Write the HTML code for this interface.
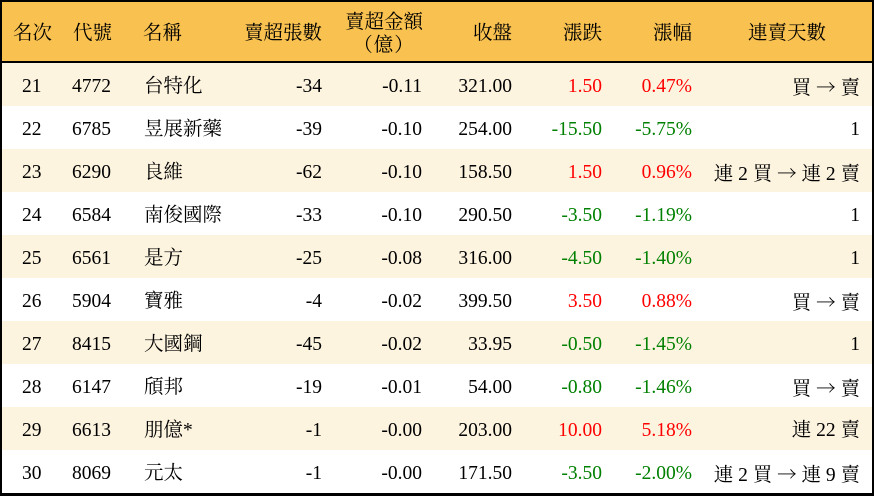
<!DOCTYPE html>
<html>
<head>
<meta charset="utf-8">
<style>
*{margin:0;padding:0;box-sizing:border-box;}
html,body{width:874px;height:496px;overflow:hidden;background:#fff;}
body{font-family:"Liberation Serif","Noto Serif CJK SC",serif;font-size:19.5px;color:#000;}
#wrap{position:absolute;left:0;top:0;width:874px;height:496px;border:2px solid #000;border-bottom-width:3px;}
.hdr{position:absolute;left:0;top:0;width:870px;height:61px;background:#F8C150;border-bottom:2px solid #000;}
.row{position:absolute;left:0;width:870px;height:43px;}
.odd{background:#FDF4E0;}
.c{position:absolute;white-space:nowrap;line-height:43px;top:2px;}
.h{position:absolute;white-space:nowrap;line-height:20px;}
.r{color:#FF0000;}
.g{color:#008000;}
.a{font-family:"Noto Serif CJK SC",serif;}
.fw{font-family:"Noto Serif CJK SC",serif;letter-spacing:1px;}
</style>
</head>
<body>
<div id="wrap">
<div class="hdr">
  <div class="h" style="left:11px;top:22px;">名次</div>
  <div class="h" style="left:71px;top:22px;">代號</div>
  <div class="h" style="left:141px;top:22px;">名稱</div>
  <div class="h" style="right:550px;top:22px;">賣超張數</div>
  <div class="h" style="left:342px;top:11px;width:80px;text-align:center;">賣超金額<br><span class="fw">（億）</span></div>
  <div class="h" style="right:360px;top:22px;">收盤</div>
  <div class="h" style="right:270px;top:22px;">漲跌</div>
  <div class="h" style="right:180px;top:22px;">漲幅</div>
  <div class="h" style="left:746px;top:22px;">連賣天數</div>
</div>

<div class="row odd" style="top:61px;">
  <div class="c" style="left:20px;">21</div><div class="c" style="left:70px;">4772</div><div class="c" style="left:142px;">台特化</div>
  <div class="c" style="right:550px;">-34</div><div class="c" style="right:450px;">-0.11</div><div class="c" style="right:360px;">321.00</div>
  <div class="c r" style="right:270px;">1.50</div><div class="c r" style="right:180px;">0.47%</div><div class="c" style="right:12px;">買 <span class="a">→</span> 賣</div>
</div>
<div class="row" style="top:104px;">
  <div class="c" style="left:20px;">22</div><div class="c" style="left:70px;">6785</div><div class="c" style="left:142px;">昱展新藥</div>
  <div class="c" style="right:550px;">-39</div><div class="c" style="right:450px;">-0.10</div><div class="c" style="right:360px;">254.00</div>
  <div class="c g" style="right:270px;">-15.50</div><div class="c g" style="right:180px;">-5.75%</div><div class="c" style="right:12px;">1</div>
</div>
<div class="row odd" style="top:147px;">
  <div class="c" style="left:20px;">23</div><div class="c" style="left:70px;">6290</div><div class="c" style="left:142px;">良維</div>
  <div class="c" style="right:550px;">-62</div><div class="c" style="right:450px;">-0.10</div><div class="c" style="right:360px;">158.50</div>
  <div class="c r" style="right:270px;">1.50</div><div class="c r" style="right:180px;">0.96%</div><div class="c" style="right:12px;">連 2 買 <span class="a">→</span> 連 2 賣</div>
</div>
<div class="row" style="top:190px;">
  <div class="c" style="left:20px;">24</div><div class="c" style="left:70px;">6584</div><div class="c" style="left:142px;">南俊國際</div>
  <div class="c" style="right:550px;">-33</div><div class="c" style="right:450px;">-0.10</div><div class="c" style="right:360px;">290.50</div>
  <div class="c g" style="right:270px;">-3.50</div><div class="c g" style="right:180px;">-1.19%</div><div class="c" style="right:12px;">1</div>
</div>
<div class="row odd" style="top:233px;">
  <div class="c" style="left:20px;">25</div><div class="c" style="left:70px;">6561</div><div class="c" style="left:142px;">是方</div>
  <div class="c" style="right:550px;">-25</div><div class="c" style="right:450px;">-0.08</div><div class="c" style="right:360px;">316.00</div>
  <div class="c g" style="right:270px;">-4.50</div><div class="c g" style="right:180px;">-1.40%</div><div class="c" style="right:12px;">1</div>
</div>
<div class="row" style="top:276px;">
  <div class="c" style="left:20px;">26</div><div class="c" style="left:70px;">5904</div><div class="c" style="left:142px;">寶雅</div>
  <div class="c" style="right:550px;">-4</div><div class="c" style="right:450px;">-0.02</div><div class="c" style="right:360px;">399.50</div>
  <div class="c r" style="right:270px;">3.50</div><div class="c r" style="right:180px;">0.88%</div><div class="c" style="right:12px;">買 <span class="a">→</span> 賣</div>
</div>
<div class="row odd" style="top:319px;">
  <div class="c" style="left:20px;">27</div><div class="c" style="left:70px;">8415</div><div class="c" style="left:142px;">大國鋼</div>
  <div class="c" style="right:550px;">-45</div><div class="c" style="right:450px;">-0.02</div><div class="c" style="right:360px;">33.95</div>
  <div class="c g" style="right:270px;">-0.50</div><div class="c g" style="right:180px;">-1.45%</div><div class="c" style="right:12px;">1</div>
</div>
<div class="row" style="top:362px;">
  <div class="c" style="left:20px;">28</div><div class="c" style="left:70px;">6147</div><div class="c" style="left:142px;">頎邦</div>
  <div class="c" style="right:550px;">-19</div><div class="c" style="right:450px;">-0.01</div><div class="c" style="right:360px;">54.00</div>
  <div class="c g" style="right:270px;">-0.80</div><div class="c g" style="right:180px;">-1.46%</div><div class="c" style="right:12px;">買 <span class="a">→</span> 賣</div>
</div>
<div class="row odd" style="top:405px;">
  <div class="c" style="left:20px;">29</div><div class="c" style="left:70px;">6613</div><div class="c" style="left:142px;">朋億*</div>
  <div class="c" style="right:550px;">-1</div><div class="c" style="right:450px;">-0.00</div><div class="c" style="right:360px;">203.00</div>
  <div class="c r" style="right:270px;">10.00</div><div class="c r" style="right:180px;">5.18%</div><div class="c" style="right:12px;">連 22 賣</div>
</div>
<div class="row" style="top:448px;">
  <div class="c" style="left:20px;">30</div><div class="c" style="left:70px;">8069</div><div class="c" style="left:142px;">元太</div>
  <div class="c" style="right:550px;">-1</div><div class="c" style="right:450px;">-0.00</div><div class="c" style="right:360px;">171.50</div>
  <div class="c g" style="right:270px;">-3.50</div><div class="c g" style="right:180px;">-2.00%</div><div class="c" style="right:12px;">連 2 買 <span class="a">→</span> 連 9 賣</div>
</div>
</div>
</body>
</html>
